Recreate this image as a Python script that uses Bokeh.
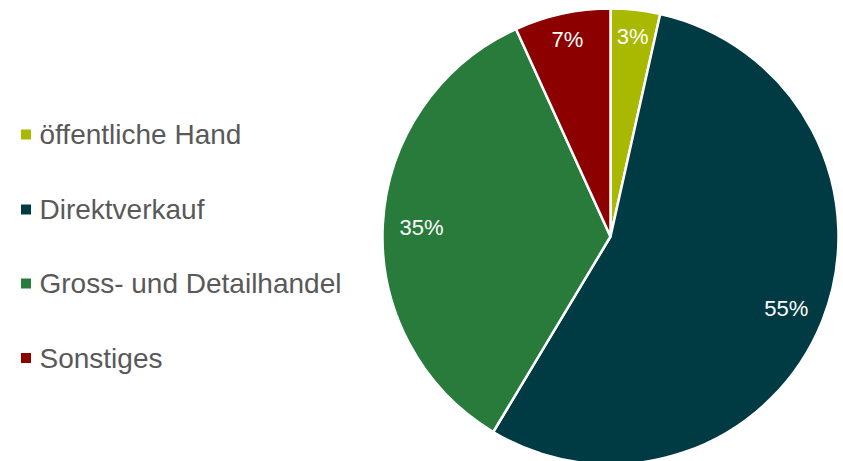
import math
from bokeh.plotting import figure
from bokeh.models import ColumnDataSource
from bokeh.core.properties import value
from bokeh.embed import file_html
from bokeh.resources import INLINE

categories = ["öffentliche Hand", "Direktverkauf", "Gross- und Detailhandel", "Sonstiges"]
shares = [3.5, 55.1, 34.6, 6.8]
labels = ["3%", "55%", "35%", "7%"]
colors = ["#A9B800", "#003A42", "#287B3A", "#8C0000"]

W, H = 843, 461
CX, CY, R = 610, H - 236, 228
label_r = [0.89, 0.83, 0.83, 0.89]

total = sum(shares)
starts, ends, lx, ly = [], [], [], []
cum = 0.0
for i, s in enumerate(shares):
    a0 = math.pi / 2 - 2 * math.pi * cum / total
    cum += s
    a1 = math.pi / 2 - 2 * math.pi * cum / total
    starts.append(a1)
    ends.append(a0)
    mid = (a0 + a1) / 2
    lx.append(CX + label_r[i] * R * math.cos(mid))
    ly.append(CY + label_r[i] * R * math.sin(mid) - 1.5)

p = figure(width=W, height=H, x_range=(0, W), y_range=(0, H),
           output_backend="svg", toolbar_location=None, min_border=0)
p.axis.visible = False
p.grid.visible = False
p.outline_line_color = None
p.background_fill_color = "white"
p.border_fill_color = "white"

src = ColumnDataSource(dict(start=starts, end=ends, color=colors))
p.wedge(x=CX, y=CY, radius=R, start_angle="start", end_angle="end",
        fill_color="color", line_color="white", line_width=2.5, source=src)

p.text(x=lx, y=ly, text=labels, text_color="white", text_align="center",
       text_baseline="middle", text_font=value("Liberation Sans"),
       text_font_size="22px")

# legend
leg_y = [H - 134, H - 209, H - 283, H - 357.5]
p.rect(x=[25.5] * 4, y=leg_y, width=10, height=10, fill_color=colors,
       line_color=None)
p.text(x=[39] * 4, y=leg_y, text=categories, text_color="#595959",
       text_align="left", text_baseline="middle",
       text_font=value("Liberation Sans"), text_font_size="28px")

open("out.html", "w").write(file_html(p, INLINE))
